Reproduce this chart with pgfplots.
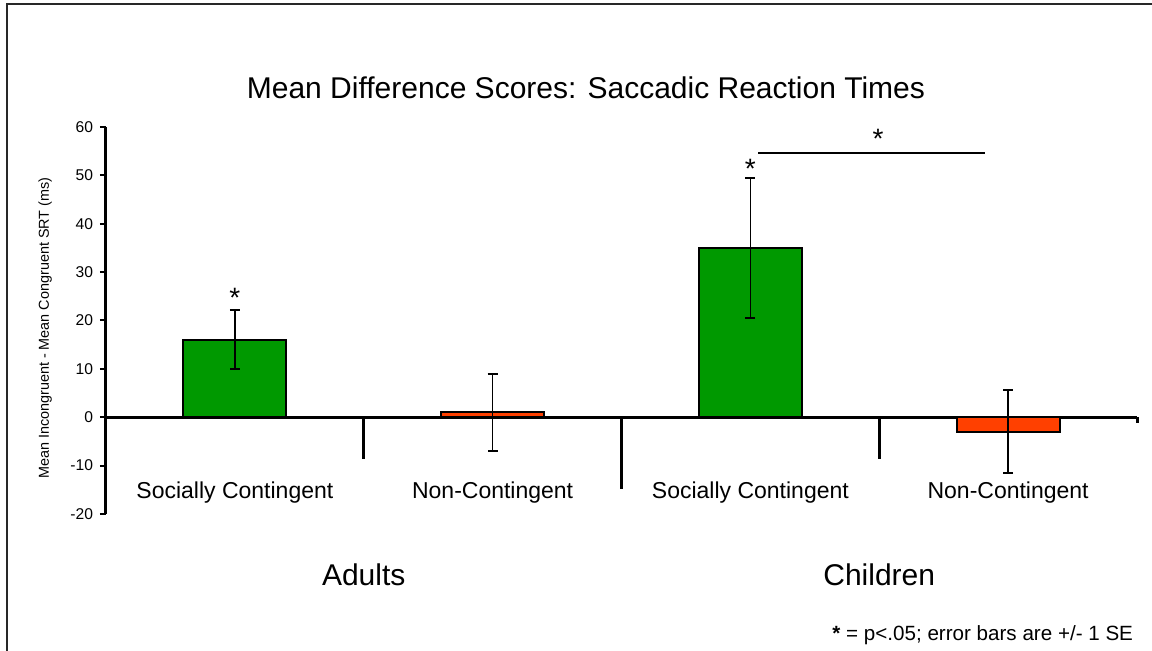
\documentclass[border=0pt]{standalone}
\usepackage{fontspec}
\setmainfont{Liberation Sans}
\usepackage{pgfplots}
\pgfplotsset{compat=1.18}
\definecolor{bargreen}{RGB}{0,153,0}
\definecolor{barred}{RGB}{255,64,0}
\definecolor{framegray}{RGB}{40,40,40}
\begin{document}
\begin{tikzpicture}
\path[use as bounding box] (-53pt,-68.5pt) rectangle (523pt,257pt);
\draw[framegray, line width=1pt] (-49.5pt,-68.5pt) -- (-49.5pt,255pt) -- (523pt,255pt);
\begin{axis}[
  at={(0,0)}, anchor=south west,
  scale only axis, width=515.5pt, height=193.5pt,
  xmin=-0.5, xmax=3.5, ymin=-20, ymax=60,
  axis x line=middle, axis y line=left,
  axis line style={-, line width=1.5pt, black},
  hide obscured x ticks=false, hide obscured y ticks=false,
  xtick=\empty,
  ytick={-20,-10,...,60},
  tick align=outside,
  major tick length=3pt,
  ytick style={line width=1pt, black},
  yticklabel style={font=\fontsize{7.8}{9}\selectfont},
  /pgf/number format/assume math mode=true,
  ylabel={Mean Incongruent - Mean Congruent SRT (ms)},
  ylabel style={font=\fontsize{7.2}{9}\selectfont, at={(rel axis cs:-0.059,0.48)}, anchor=center},
  clip=false,
  bar width=0.4, bar shift=0pt,
]
\addplot[ybar, fill=bargreen, draw=black, line width=1pt,
  error bars/.cd, y dir=both, y explicit,
  error bar style={line width=0.75pt, black},
  error mark options={line width=0.9pt, mark size=2.5pt, rotate=90}]
  coordinates {(0,16) +- (0,6.1) (2,35) +- (0,14.5)};
\addplot[ybar, fill=barred, draw=black, line width=1pt,
  error bars/.cd, y dir=both, y explicit,
  error bar style={line width=0.75pt, black},
  error mark options={line width=0.9pt, mark size=2.5pt, rotate=90}]
  coordinates {(1,1) +- (0,8.0) (3,-3) +- (0,8.6)};
% group separators on the category axis
\draw[line width=1.5pt] (axis cs:0.5,0) -- (axis cs:0.5,-8.6);
\draw[line width=1.5pt] (axis cs:1.5,0) -- (axis cs:1.5,-14.8);
\draw[line width=1.5pt] (axis cs:2.5,0) -- (axis cs:2.5,-8.6);
\draw[line width=1.5pt] (axis cs:3.5,0) -- (axis cs:3.5,-1.2);
% significance
\draw[line width=1pt] (axis cs:2.03,54.7) -- (axis cs:2.91,54.7);
\node[anchor=base, font=\fontsize{14}{16}\selectfont] at (axis cs:0,22.6) {*};
\node[anchor=base, font=\fontsize{14}{16}\selectfont] at (axis cs:2,49.3) {*};
\node[anchor=base, font=\fontsize{14}{16}\selectfont] at (axis cs:2.495,55.5) {*};
% category labels
\node[anchor=base, font=\fontsize{11.5}{14}\selectfont] at (axis cs:0,-16.9) {Socially Contingent};
\node[anchor=base, font=\fontsize{11.5}{14}\selectfont] at (axis cs:1,-16.9) {Non-Contingent};
\node[anchor=base, font=\fontsize{11.5}{14}\selectfont] at (axis cs:2,-16.9) {Socially Contingent};
\node[anchor=base, font=\fontsize{11.5}{14}\selectfont] at (axis cs:3,-16.9) {Non-Contingent};
\node[anchor=base, font=\fontsize{15}{18}\selectfont] at (axis cs:0.5,-34.8) {Adults};
\node[anchor=base, font=\fontsize{15}{18}\selectfont] at (axis cs:2.5,-34.8) {Children};
% title and note
\node[anchor=base, font=\fontsize{15}{18}\selectfont] at (axis cs:1.362,65.8) {Mean Difference Scores: Saccadic Reaction Times};
\node[anchor=base east, font=\fontsize{10.3}{12}\selectfont] at (axis cs:3.512,-46.05) {\textbf{*} = p<.05; error bars are +/- 1 SE};
\end{axis}
\end{tikzpicture}
\end{document}
